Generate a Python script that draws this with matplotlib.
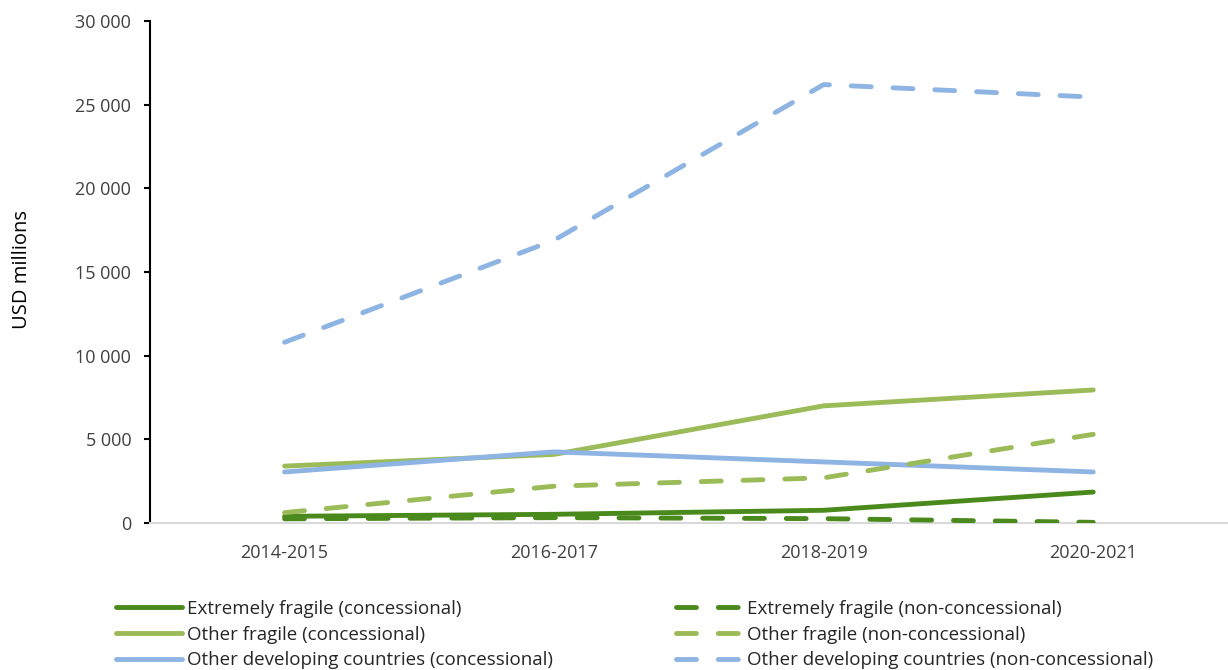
import matplotlib
matplotlib.use("Agg")
import matplotlib.pyplot as plt
from matplotlib.ticker import FuncFormatter

periods = ["2014-2015", "2016-2017", "2018-2019", "2020-2021"]

extremely_fragile_conc = [400, 520, 760, 1850]
other_fragile_conc = [3400, 4100, 7000, 7950]
other_dev_conc = [3050, 4250, 3650, 3050]
extremely_fragile_nonconc = [250, 320, 260, 40]
other_fragile_nonconc = [620, 2200, 2700, 5300]
other_dev_nonconc = [10800, 16900, 26200, 25450]

labels_conc = [
    "Extremely fragile (concessional)",
    "Other fragile (concessional)",
    "Other developing countries (concessional)",
]
labels_nonconc = [
    "Extremely fragile (non-concessional)",
    "Other fragile (non-concessional)",
    "Other developing countries (non-concessional)",
]

dark_green = "#4A8A1C"
light_green = "#9BBB59"
blue = "#8DB4E2"

plt.rcParams["font.family"] = ["Open Sans", "DejaVu Sans"]

fig = plt.figure(figsize=(12.28, 6.70), dpi=100)
ax = fig.add_axes([0.122, 0.2194, 0.878, 0.7493])

x = list(range(len(periods)))
lw = 3.5
dash = (0, (4.1, 4.5))

conc_series = [
    (extremely_fragile_conc, dark_green),
    (other_fragile_conc, light_green),
    (other_dev_conc, blue),
]
nonconc_series = [
    (extremely_fragile_nonconc, dark_green),
    (other_fragile_nonconc, light_green),
    (other_dev_nonconc, blue),
]

conc_handles = []
for (vals, col), lab in zip(conc_series, labels_conc):
    h, = ax.plot(x, vals, color=col, lw=lw, linestyle="-", label=lab,
                 solid_capstyle="round", solid_joinstyle="round", zorder=3)
    conc_handles.append(h)

nonconc_handles = []
for (vals, col), lab in zip(nonconc_series, labels_nonconc):
    h, = ax.plot(x, vals, color=col, lw=lw, linestyle=dash, label=lab,
                 dash_capstyle="round", dash_joinstyle="round", zorder=3)
    nonconc_handles.append(h)

ax.set_xlim(-0.5, 3.5)
ax.set_ylim(0, 30000)
ax.set_xticks(x)
ax.set_xticklabels(periods)
ax.set_yticks(range(0, 30001, 5000))
ax.yaxis.set_major_formatter(FuncFormatter(lambda v, p: f"{int(v):,}".replace(",", " ")))

for s in ["top", "right"]:
    ax.spines[s].set_visible(False)
ax.spines["left"].set_color("black")
ax.spines["left"].set_linewidth(1.5)
ax.spines["bottom"].set_color("#D9D9D9")
ax.spines["bottom"].set_linewidth(1.5)

ax.tick_params(axis="y", direction="out", length=4.3, width=1.5, color="black",
               labelsize=13, labelcolor="#404040", pad=9)
ax.tick_params(axis="x", length=0, labelsize=13, labelcolor="#404040", pad=15)

ax.set_ylabel("USD millions", fontsize=14.5, color="black")
ax.yaxis.set_label_coords(-0.109, 0.504)

legend_kw = dict(loc="upper left", frameon=False, fontsize=13.5, handlelength=3.5,
                 handletextpad=0.3, labelspacing=0.41, borderaxespad=0,
                 borderpad=0, labelcolor="#262626")
fig.legend(handles=conc_handles, bbox_to_anchor=(116 / 1228, 1 - 600 / 670), **legend_kw)
fig.legend(handles=nonconc_handles, bbox_to_anchor=(676 / 1228, 1 - 600 / 670), **legend_kw)

fig.savefig("out.png", dpi=100)
